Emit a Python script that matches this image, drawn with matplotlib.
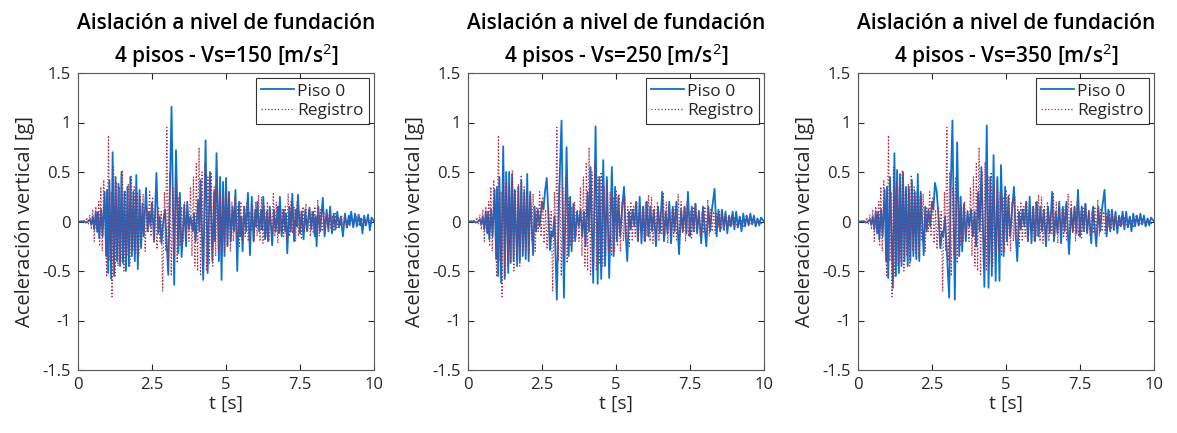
import numpy as np
import matplotlib
matplotlib.use("Agg")
import matplotlib.pyplot as plt

plt.rcParams['font.family'] = ['Open Sans', 'DejaVu Sans']
plt.rcParams['mathtext.fontset'] = 'custom'
plt.rcParams['mathtext.rm'] = 'Open Sans'
plt.rcParams['mathtext.it'] = 'Open Sans'
plt.rcParams['mathtext.bf'] = 'Open Sans:bold'

# velocidades de onda de corte de cada caso
vs_casos = [150, 250, 350]

# registro de aceleracion vertical (tiempo [s], aceleracion [g]), picos leidos
registro = [
    (0.00, 0.00), (0.10, 0.01), (0.15, -0.01), (0.20, 0.02), (0.25, -0.02), (0.30, 0.04), (0.35, -0.03),
    (0.40, 0.07), (0.45, -0.08), (0.50, 0.12), (0.55, -0.20), (0.60, 0.15), (0.65, -0.12), (0.70, 0.20),
    (0.73, -0.25), (0.77, 0.35), (0.82, -0.30), (0.87, 0.42), (0.97, -0.56), (1.03, 0.87), (1.08, -0.40),
    (1.12, 0.30), (1.15, -0.76), (1.20, 0.55), (1.25, -0.55), (1.30, 0.40), (1.35, -0.45), (1.40, 0.35),
    (1.45, -0.40), (1.50, 0.52), (1.55, -0.50), (1.60, 0.30), (1.65, -0.35), (1.70, 0.38), (1.75, -0.45),
    (1.80, 0.47), (1.85, -0.30), (1.90, 0.35), (1.95, -0.32), (2.00, 0.30), (2.05, -0.35), (2.10, 0.25),
    (2.15, -0.20), (2.20, 0.28), (2.27, -0.30), (2.32, 0.15), (2.37, -0.10), (2.42, 0.30), (2.47, -0.15),
    (2.52, 0.25), (2.57, -0.22), (2.62, 0.12), (2.67, -0.28), (2.72, 0.15), (2.77, -0.20), (2.81, 0.10),
    (2.86, -0.70), (2.92, 0.30), (2.96, -0.30), (3.00, 0.95), (3.05, -0.40), (3.10, 0.50), (3.15, -0.55),
    (3.20, 0.35), (3.25, -0.35), (3.30, 0.45), (3.35, -0.42), (3.40, 0.25), (3.45, -0.25), (3.50, 0.15),
    (3.55, -0.20), (3.60, 0.20), (3.65, -0.15), (3.70, 0.12), (3.75, -0.20), (3.80, 0.35), (3.85, -0.35),
    (3.90, 0.45), (3.95, -0.45), (4.00, 0.60), (4.04, -0.50), (4.09, 0.75), (4.14, -0.55), (4.19, 0.50),
    (4.24, -0.45), (4.29, 0.60), (4.34, -0.50), (4.39, 0.45), (4.44, -0.42), (4.50, 0.50), (4.55, -0.45),
    (4.60, 0.35), (4.65, -0.35), (4.70, 0.42), (4.75, -0.30), (4.80, 0.30), (4.85, -0.35), (4.90, 0.25),
    (4.95, -0.30), (5.00, 0.32), (5.05, -0.25), (5.10, 0.28), (5.15, -0.30), (5.20, 0.20), (5.25, -0.20),
    (5.30, 0.25), (5.35, -0.15), (5.40, 0.15), (5.45, -0.25), (5.50, 0.20), (5.55, -0.20), (5.60, 0.15),
    (5.65, -0.15), (5.70, 0.20), (5.75, -0.20), (5.80, 0.10), (5.85, -0.10), (5.90, 0.15), (5.95, -0.20),
    (6.00, 0.20), (6.05, -0.15), (6.10, 0.27), (6.15, -0.20), (6.20, 0.25), (6.25, -0.22), (6.30, 0.15),
    (6.35, -0.15), (6.40, 0.20), (6.45, -0.20), (6.50, 0.10), (6.55, -0.12), (6.60, 0.28), (6.65, -0.15),
    (6.70, 0.20), (6.75, -0.22), (6.80, 0.15), (6.85, -0.10), (6.90, 0.12), (6.95, -0.15), (7.00, 0.15),
    (7.05, -0.20), (7.10, 0.28), (7.15, -0.15), (7.20, 0.20), (7.25, -0.12), (7.30, 0.15), (7.35, -0.20),
    (7.40, 0.20), (7.45, -0.15), (7.50, 0.10), (7.55, -0.18), (7.60, 0.15), (7.65, -0.10), (7.70, 0.18),
    (7.75, -0.10), (7.80, 0.12), (7.85, -0.15), (7.90, 0.10), (7.95, -0.12), (8.00, 0.15), (8.05, -0.12),
    (8.10, 0.22), (8.15, -0.15), (8.20, 0.12), (8.25, -0.10), (8.30, 0.10), (8.35, -0.12), (8.40, 0.08),
    (8.45, -0.06), (8.50, 0.10), (8.55, -0.08), (8.60, 0.06), (8.65, -0.10), (8.70, 0.08), (8.75, -0.06),
    (8.80, 0.05), (8.85, -0.05), (8.90, 0.06), (8.95, -0.04), (9.00, 0.05), (9.10, -0.06), (9.20, 0.04),
    (9.30, -0.05), (9.40, 0.06), (9.50, -0.04), (9.60, 0.03), (9.70, -0.04), (9.80, 0.03), (9.90, -0.02),
    (10.00, 0.00),
]

# respuesta en el piso 0 para Vs = 150 m/s
piso0_vs150 = [
    (0.00, 0.00), (0.20, 0.00), (0.30, -0.01), (0.40, 0.02), (0.45, -0.03), (0.50, 0.05), (0.55, -0.08),
    (0.60, 0.10), (0.65, -0.10), (0.68, 0.09), (0.72, -0.17), (0.78, 0.12), (0.83, -0.15), (0.90, 0.30),
    (0.95, -0.35), (0.98, 0.32), (1.02, -0.52), (1.06, 0.42), (1.12, -0.58), (1.17, 0.70), (1.22, -0.55),
    (1.27, 0.45), (1.32, -0.40), (1.37, 0.38), (1.42, -0.45), (1.47, 0.50), (1.52, -0.42), (1.57, 0.30),
    (1.62, -0.50), (1.67, 0.35), (1.72, -0.45), (1.77, 0.45), (1.82, -0.35), (1.87, 0.30), (1.92, -0.40),
    (1.97, 0.47), (2.02, -0.48), (2.08, 0.32), (2.13, -0.27), (2.18, 0.18), (2.22, -0.15), (2.30, 0.34),
    (2.35, -0.10), (2.40, 0.10), (2.45, -0.05), (2.50, 0.19), (2.57, -0.19), (2.65, 0.49), (2.71, -0.12),
    (2.76, 0.05), (2.82, -0.22), (2.88, 0.00), (2.94, 0.12), (3.05, -0.54), (3.16, 1.16), (3.25, -0.64),
    (3.31, 0.72), (3.39, -0.32), (3.44, 0.29), (3.50, -0.36), (3.59, 0.17), (3.65, -0.25), (3.69, 0.20),
    (3.75, -0.08), (3.80, 0.05), (3.88, -0.10), (3.92, 0.08), (3.97, -0.20), (4.06, 0.22), (4.10, -0.10),
    (4.14, 0.42), (4.23, -0.59), (4.31, 0.82), (4.38, -0.52), (4.46, 0.50), (4.54, -0.40), (4.60, 0.30),
    (4.63, -0.20), (4.68, 0.69), (4.76, -0.40), (4.80, 0.45), (4.85, -0.59), (4.90, 0.40), (4.95, -0.35),
    (5.00, 0.44), (5.05, -0.25), (5.10, 0.30), (5.16, -0.20), (5.22, 0.15), (5.27, -0.10), (5.32, 0.32),
    (5.38, -0.50), (5.44, 0.20), (5.49, -0.15), (5.52, 0.05), (5.56, -0.30), (5.62, 0.15), (5.68, -0.10),
    (5.74, 0.29), (5.81, -0.34), (5.87, 0.25), (5.93, -0.20), (5.99, 0.12), (6.02, -0.05), (6.06, 0.20),
    (6.12, -0.10), (6.19, 0.12), (6.22, -0.08), (6.26, 0.25), (6.32, -0.18), (6.38, 0.10), (6.42, -0.20),
    (6.48, 0.15), (6.56, -0.24), (6.62, 0.12), (6.68, -0.10), (6.75, 0.15), (6.78, -0.12), (6.82, 0.25),
    (6.88, -0.15), (6.95, 0.12), (7.00, -0.10), (7.03, 0.08), (7.07, -0.32), (7.14, 0.15), (7.19, -0.10),
    (7.24, 0.28), (7.30, -0.20), (7.36, 0.12), (7.40, -0.05), (7.43, 0.27), (7.50, -0.12), (7.56, 0.10),
    (7.62, -0.18), (7.68, 0.12), (7.74, -0.10), (7.82, 0.14), (7.88, -0.08), (7.94, 0.10), (8.00, -0.15),
    (8.03, 0.05), (8.06, -0.25), (8.12, 0.15), (8.18, -0.10), (8.27, 0.24), (8.33, -0.15), (8.40, 0.12),
    (8.46, -0.10), (8.52, 0.15), (8.58, -0.12), (8.64, 0.08), (8.70, -0.08), (8.76, 0.10), (8.82, -0.06),
    (8.88, 0.05), (8.95, -0.15), (9.02, 0.08), (9.08, -0.06), (9.15, 0.06), (9.18, -0.04), (9.23, 0.10),
    (9.30, -0.06), (9.36, 0.08), (9.42, -0.05), (9.48, 0.07), (9.54, -0.04), (9.56, 0.03), (9.61, -0.12),
    (9.67, 0.06), (9.73, -0.04), (9.80, 0.07), (9.86, -0.09), (9.92, 0.04), (10.00, 0.00),
]

# respuesta en el piso 0 para Vs = 250 m/s
piso0_vs250 = [
    (0.00, 0.00), (0.20, 0.00), (0.30, -0.01), (0.40, 0.02), (0.45, -0.03), (0.50, 0.05), (0.55, -0.08),
    (0.60, 0.10), (0.65, -0.12), (0.68, 0.10), (0.72, -0.18), (0.78, 0.12), (0.83, -0.15), (0.90, 0.32),
    (0.95, -0.38), (0.98, 0.35), (1.02, -0.55), (1.06, 0.45), (1.12, -0.62), (1.19, 0.76), (1.24, -0.58),
    (1.29, 0.50), (1.36, -0.52), (1.39, 0.50), (1.44, -0.42), (1.49, 0.48), (1.54, -0.40), (1.58, 0.32),
    (1.66, -0.45), (1.70, 0.35), (1.75, -0.40), (1.80, 0.42), (1.85, -0.35), (1.90, 0.30), (1.95, -0.38),
    (2.00, 0.48), (2.05, -0.40), (2.10, 0.30), (2.20, -0.34), (2.25, 0.15), (2.30, -0.10), (2.36, 0.12),
    (2.42, -0.05), (2.50, 0.20), (2.55, 0.12), (2.60, 0.30), (2.66, 0.44), (2.72, 0.05), (2.77, -0.29),
    (2.82, -0.10), (2.86, -0.15), (2.92, 0.05), (3.00, -0.79), (3.08, 0.30), (3.16, 1.02), (3.24, -0.77),
    (3.33, 0.75), (3.40, -0.35), (3.45, 0.25), (3.50, -0.30), (3.56, 0.18), (3.62, -0.20), (3.68, 0.10),
    (3.74, -0.05), (3.80, 0.12), (3.86, -0.15), (3.92, 0.10), (3.97, -0.25), (4.04, 0.30), (4.09, -0.10),
    (4.14, 0.55), (4.23, -0.62), (4.31, 0.96), (4.38, -0.63), (4.44, 0.45), (4.50, -0.58), (4.57, 0.62),
    (4.63, -0.45), (4.69, 0.45), (4.77, -0.57), (4.86, 0.55), (4.92, -0.35), (4.97, 0.35), (5.03, -0.20),
    (5.08, 0.25), (5.14, -0.15), (5.20, 0.10), (5.27, 0.35), (5.32, -0.10), (5.38, -0.40), (5.44, 0.10),
    (5.50, -0.08), (5.56, 0.12), (5.62, -0.05), (5.68, 0.20), (5.74, -0.20), (5.80, 0.25), (5.86, -0.22),
    (5.92, 0.15), (5.98, -0.20), (6.04, 0.20), (6.10, -0.15), (6.16, 0.15), (6.22, -0.10), (6.28, 0.12),
    (6.35, -0.25), (6.42, 0.15), (6.48, -0.12), (6.56, 0.30), (6.62, -0.20), (6.68, 0.10), (6.74, -0.12),
    (6.80, 0.20), (6.86, -0.22), (6.92, 0.15), (6.98, -0.10), (7.04, 0.20), (7.13, -0.33), (7.20, 0.12),
    (7.26, -0.10), (7.32, 0.15), (7.38, -0.12), (7.43, 0.30), (7.50, -0.15), (7.56, 0.15), (7.62, -0.10),
    (7.68, 0.18), (7.74, -0.12), (7.80, 0.10), (7.88, -0.22), (7.94, 0.15), (8.00, -0.08), (8.05, -0.25),
    (8.12, 0.15), (8.18, -0.10), (8.24, 0.12), (8.33, 0.33), (8.40, -0.15), (8.46, 0.12), (8.52, -0.10),
    (8.58, 0.12), (8.64, -0.08), (8.70, 0.10), (8.76, -0.12), (8.82, 0.06), (8.88, -0.05), (8.94, 0.10),
    (9.00, -0.08), (9.06, 0.10), (9.12, -0.06), (9.18, 0.05), (9.24, -0.10), (9.30, 0.08), (9.36, -0.05),
    (9.42, 0.06), (9.48, -0.04), (9.54, 0.08), (9.60, -0.03), (9.66, 0.06), (9.72, -0.05), (9.78, 0.03),
    (9.84, -0.04), (9.90, 0.04), (10.00, 0.00),
]

# respuesta en el piso 0 para Vs = 350 m/s
piso0_vs350 = [
    (0.00, 0.00), (0.20, 0.00), (0.30, -0.01), (0.40, 0.02), (0.45, -0.03), (0.50, 0.05), (0.55, -0.08),
    (0.60, 0.10), (0.65, -0.12), (0.68, 0.10), (0.72, -0.18), (0.78, 0.12), (0.83, -0.15), (0.90, 0.32),
    (0.95, -0.40), (0.98, 0.35), (1.02, -0.57), (1.08, 0.45), (1.18, -0.67), (1.23, 0.69), (1.28, -0.55),
    (1.32, 0.52), (1.38, -0.52), (1.42, 0.48), (1.47, -0.45), (1.52, 0.50), (1.57, -0.40), (1.62, 0.35),
    (1.68, -0.45), (1.72, 0.35), (1.77, -0.40), (1.82, 0.42), (1.87, -0.35), (1.92, 0.30), (1.97, -0.38),
    (2.02, 0.48), (2.07, -0.40), (2.12, 0.30), (2.22, -0.34), (2.27, 0.15), (2.32, -0.10), (2.38, 0.12),
    (2.44, -0.05), (2.50, 0.20), (2.55, 0.12), (2.60, 0.39), (2.66, 0.30), (2.72, 0.05), (2.78, -0.27),
    (2.84, -0.10), (2.88, -0.15), (2.94, 0.05), (3.08, -0.77), (3.13, 0.30), (3.19, 1.02), (3.27, -0.79),
    (3.35, 0.80), (3.42, -0.35), (3.47, 0.25), (3.52, -0.30), (3.58, 0.18), (3.64, -0.20), (3.70, 0.10),
    (3.76, -0.05), (3.82, 0.12), (3.88, -0.15), (3.94, 0.10), (3.99, -0.25), (4.06, 0.30), (4.11, -0.10),
    (4.17, 0.55), (4.27, -0.66), (4.35, 0.97), (4.41, -0.67), (4.47, 0.45), (4.52, -0.55), (4.58, 0.67),
    (4.65, -0.60), (4.71, 0.45), (4.78, -0.60), (4.83, 0.57), (4.92, -0.35), (4.97, 0.35), (5.03, -0.20),
    (5.08, 0.25), (5.14, -0.15), (5.20, 0.10), (5.27, 0.35), (5.32, -0.10), (5.38, -0.40), (5.44, 0.10),
    (5.50, -0.08), (5.56, 0.12), (5.62, -0.05), (5.68, 0.20), (5.74, -0.20), (5.80, 0.25), (5.86, -0.22),
    (5.92, 0.15), (5.98, -0.20), (6.04, 0.20), (6.10, -0.15), (6.16, 0.15), (6.22, -0.10), (6.28, 0.12),
    (6.35, -0.25), (6.42, 0.15), (6.48, -0.12), (6.56, 0.30), (6.62, -0.20), (6.68, 0.10), (6.74, -0.12),
    (6.80, 0.20), (6.86, -0.22), (6.92, 0.15), (6.98, -0.10), (7.04, 0.20), (7.13, -0.33), (7.20, 0.12),
    (7.26, -0.10), (7.32, 0.15), (7.38, -0.12), (7.43, 0.32), (7.50, -0.15), (7.56, 0.15), (7.62, -0.10),
    (7.68, 0.18), (7.74, -0.12), (7.80, 0.10), (7.88, -0.22), (7.94, 0.15), (8.00, -0.08), (8.05, -0.25),
    (8.12, 0.15), (8.18, -0.10), (8.24, 0.12), (8.33, 0.32), (8.40, -0.15), (8.46, 0.12), (8.52, -0.10),
    (8.58, 0.12), (8.64, -0.08), (8.70, 0.10), (8.76, -0.12), (8.82, 0.06), (8.88, -0.05), (8.94, 0.10),
    (9.00, -0.08), (9.06, 0.10), (9.12, -0.06), (9.18, 0.05), (9.24, -0.10), (9.30, 0.08), (9.36, -0.05),
    (9.42, 0.06), (9.48, -0.04), (9.54, 0.08), (9.60, -0.03), (9.66, 0.06), (9.72, -0.05), (9.78, 0.03),
    (9.84, -0.04), (9.90, 0.04), (10.00, 0.00),
]

piso0 = [piso0_vs150, piso0_vs250, piso0_vs350]

yticks = [-1.5, -1, -0.5, 0, 0.5, 1, 1.5]
ytick_labels = ['-1.5', '-1', '-0.5', '0', '0.5', '1', '1.5']
xticks = [0, 2.5, 5, 7.5, 10]
xtick_labels = ['0', '2.5', '5', '7.5', '10']

azul = '#0a72d0'
rojo = '#b52a45'
gris = '#262626'

W, H = 1177, 433
fig = plt.figure(figsize=(W / 100, H / 100), dpi=100)

t_reg, a_reg = np.array(registro).T

for k, vs in enumerate(vs_casos):
    x0 = 78 + 390 * k
    ax = fig.add_axes([x0 / W, (H - 370) / H, 296 / W, 297 / H])
    t_p, a_p = np.array(piso0[k]).T
    ax.plot(t_p, a_p, color=azul, lw=1.3, label='Piso 0')
    ax.plot(t_reg, a_reg, color=rojo, lw=0.9, ls=':', label='Registro')

    ax.set_xlim(0, 10)
    ax.set_ylim(-1.5, 1.5)
    ax.set_xticks(xticks)
    ax.set_xticklabels(xtick_labels)
    ax.set_yticks(yticks)
    ax.set_yticklabels(ytick_labels)
    ax.tick_params(direction='in', top=True, right=True, length=4, width=0.8,
                   labelsize=12, colors=gris, pad=5)
    for s in ax.spines.values():
        s.set_color('#5a5a5a')
        s.set_linewidth(0.8)

    ax.set_xlabel('t [s]', fontsize=14, color=gris, labelpad=1)
    ax.set_ylabel('Aceleración vertical [g]', fontsize=14.5, color=gris, labelpad=5)
    ax.set_title('Aislación a nivel de fundación\n4 pisos - Vs=%d [m/s$^{2}$]' % vs,
                 fontsize=15, fontweight='semibold', color='black', pad=7, linespacing=1.35)

    leg = ax.legend(loc='upper right', fontsize=12.5, frameon=True, fancybox=False,
                    borderpad=0.3, handlelength=1.9, handletextpad=0.15,
                    labelspacing=0.2, borderaxespad=0.3)
    leg.get_frame().set_edgecolor('black')
    leg.get_frame().set_linewidth(0.8)
    for txt in leg.get_texts():
        txt.set_color(gris)

fig.savefig('out.png', dpi=100)
